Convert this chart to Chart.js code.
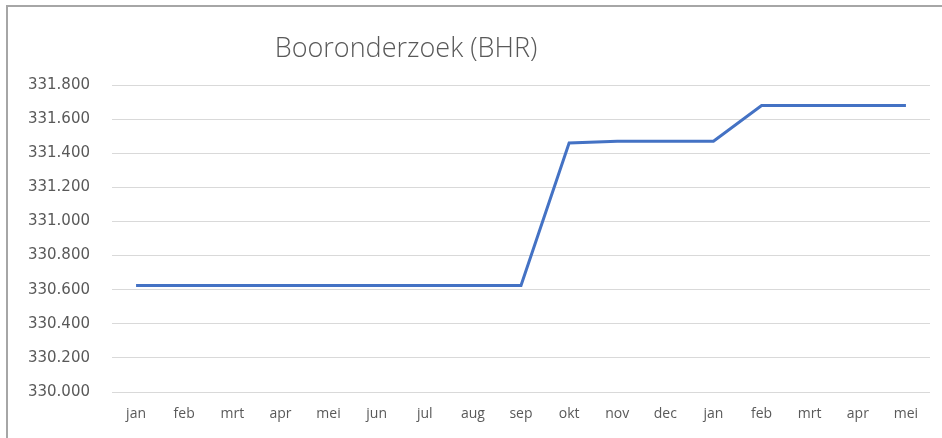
<!DOCTYPE html>
<html>
<head>
<meta charset="utf-8">
<script src="https://cdn.jsdelivr.net/npm/chart.js@4"></script>
<style>
  html, body { margin: 0; padding: 0; background: #fff; }
  #wrap { position: relative; width: 942px; height: 438px; }
</style>
</head>
<body>
<div id="wrap"><canvas id="bhrChart" width="942" height="438"></canvas></div>
<script>
// maanden (twee jaar lopend)
const months = ["jan", "feb", "mrt", "apr", "mei", "jun", "jul", "aug", "sep",
  "okt", "nov", "dec", "jan", "feb", "mrt", "apr", "mei"];
// waarden
const bhrValues = [330625, 330625, 330625, 330625, 330625, 330625, 330625, 330625, 330625,
  331460, 331470, 331470, 331470, 331680, 331680, 331680, 331680];
const yMin = 330000;
const yMax = 331800;
const yStep = 200;
const chartTitle = "Booronderzoek (BHR)";

const nl = new Intl.NumberFormat("nl-NL");

// kader + titel zoals in Excel
const frameAndTitle = {
  id: "frameAndTitle",
  beforeDraw(chart) {
    const c = chart.ctx;
    c.save();
    c.fillStyle = "#fff";
    c.fillRect(0, 0, chart.width, chart.height);
    c.fillStyle = "#a6a6a6";
    c.fillRect(6, 5, chart.width - 6, 2);
    c.fillRect(6, 5, 2, chart.height - 5);
    c.restore();
  },
  afterDraw(chart) {
    const c = chart.ctx;
    c.save();
    c.font = "300 27px 'Open Sans'";
    c.fillStyle = "#595959";
    c.textAlign = "center";
    c.textBaseline = "alphabetic";
    c.fillText(chartTitle, 406, 57);
    c.restore();
  },
};

new Chart(document.getElementById("bhrChart"), {
  type: "line",
  data: {
    labels: months,
    datasets: [{
      data: bhrValues,
      borderColor: "#4472c4",
      borderWidth: 3,
      pointRadius: 0,
      tension: 0,
      fill: false,
    }],
  },
  options: {
    responsive: false,
    animation: false,
    layout: { padding: { top: 85, left: 8, right: 12, bottom: 0 } },
    plugins: {
      legend: { display: false },
      title: { display: false },
      tooltip: { enabled: false },
    },
    scales: {
      x: {
        offset: true,
        grid: { display: false, drawTicks: false },
        border: { display: false },
        ticks: {
          color: "#595959",
          font: { family: "'Open Sans'", size: 14 },
          padding: 14,
          autoSkip: false,
          maxRotation: 0,
        },
        afterFit(scale) { scale.height = 46; },
      },
      y: {
        min: yMin,
        max: yMax,
        grid: { color: "#d9d9d9", lineWidth: 1, drawTicks: false },
        border: { display: false },
        ticks: {
          stepSize: yStep,
          color: "#595959",
          font: { family: "'DejaVu Sans'", size: 15 },
          padding: 22,
          callback: (v) => nl.format(v),
        },
        afterFit(scale) { scale.width = 104; },
      },
    },
  },
  plugins: [frameAndTitle],
});
</script>
</body>
</html>
